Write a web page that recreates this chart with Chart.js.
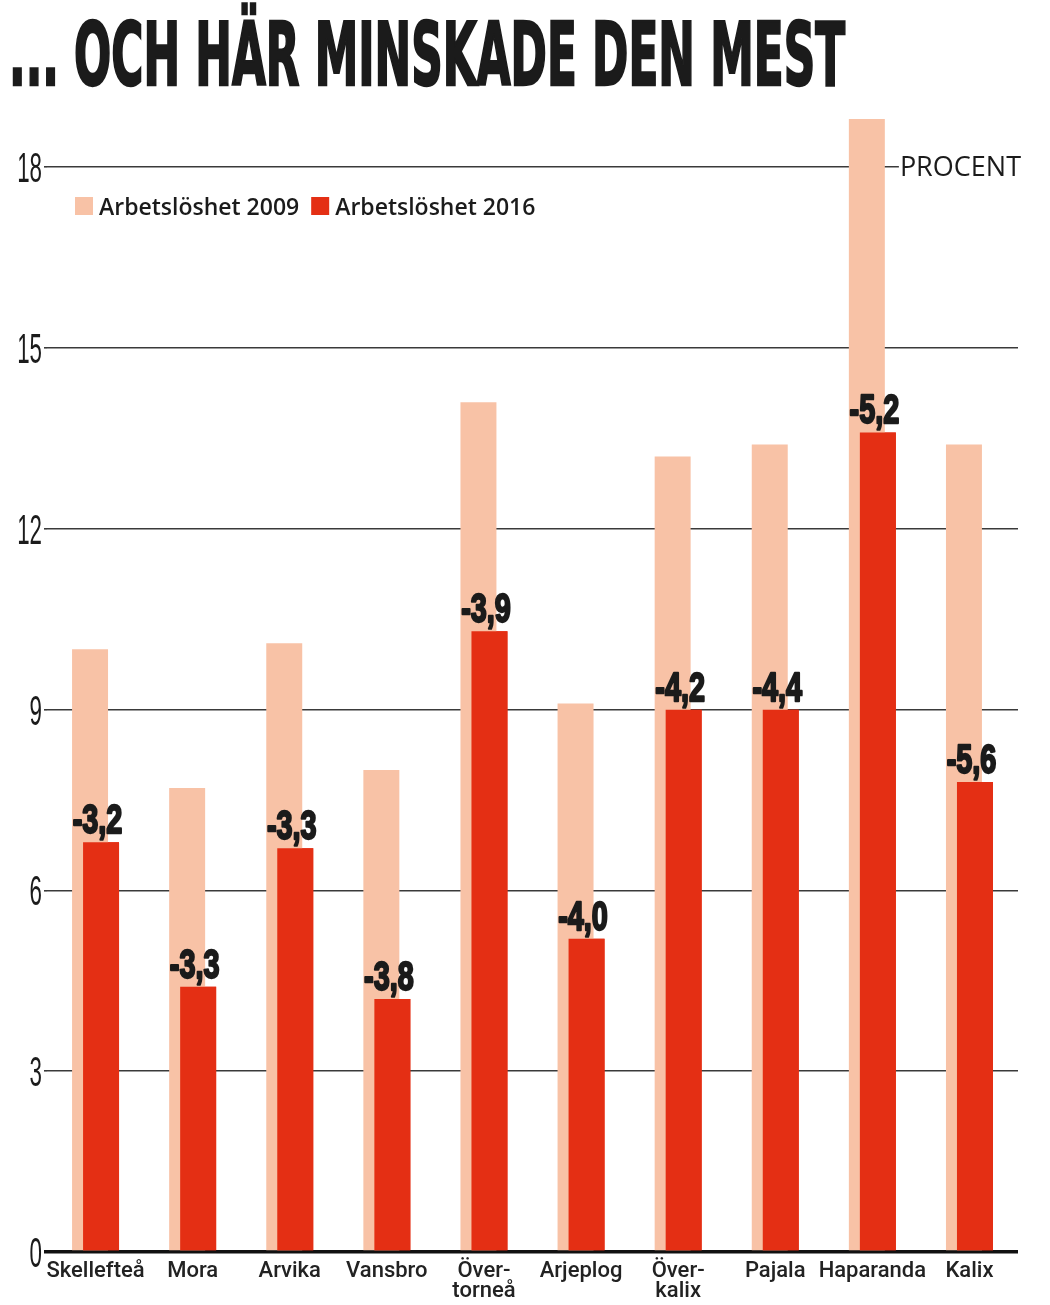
<!DOCTYPE html>
<html lang="sv">
<head>
  <meta charset="UTF-8">
  <script src="https://cdn.jsdelivr.net/npm/chart.js@4.4.1/dist/chart.umd.min.js"></script>
  <style>
    html, body { margin: 0; padding: 0; background: #fff; }
    #wrap { position: relative; width: 1050px; height: 1305px; overflow: hidden; }
    #title {
      position: absolute; left: 9px; top: 11px;
      font-family: "Liberation Sans Narrow", "DejaVu Sans Condensed", "Liberation Sans", sans-serif;
      font-weight: bold; font-size: 88px; line-height: 88px;
      color: #1b1b1b; white-space: nowrap; transform-origin: 0 0;
      -webkit-text-stroke: 2.5px #1b1b1b;
    }
    canvas { position: absolute; left: 0; top: 0; }
  </style>
  <title>... och här minskade den mest</title>
</head>
<body>
  <div id="wrap">
    <canvas id="chart" width="1050" height="1305"></canvas>
    <div id="title">... OCH HÄR MINSKADE DEN MEST</div>
  </div>

  <script>
    // kommuner och arbetslöshet (procent)
    const municipalities = ['Skellefteå', 'Mora', 'Arvika', 'Vansbro', ['Över-', 'torneå'],
      'Arjeplog', ['Över-', 'kalix'], 'Pajala', 'Haparanda', 'Kalix'];
    const unemployment2009 = [10.0, 7.7, 10.1, 8.0, 14.1, 9.1, 13.2, 13.4, 18.8, 13.4];
    const unemployment2016 = [6.8, 4.4, 6.7, 4.2, 10.3, 5.2, 9.0, 9.0, 13.6, 7.8];
    const changeLabels = ['-3,2', '-3,3', '-3,3', '-3,8', '-3,9', '-4,0', '-4,2', '-4,4', '-5,2', '-5,6'];
    const yTicks = [0, 3, 6, 9, 12, 15, 18];
    const seriesNames = ['Arbetslöshet 2009', 'Arbetslöshet 2016'];

    const LIGHT = '#f8c2a6';
    const DARK = '#e42f14';
    const INK = '#1b1b1b';

    // fit the title to its width in the picture
    const title = document.getElementById('title');
    title.style.transform = 'scaleX(' + (836 / title.scrollWidth) + ')';

    function condensedText(ctx, text, x, y, font, sx, align, heavy) {
      ctx.save();
      ctx.translate(x, y);
      ctx.scale(sx, 1);
      ctx.font = font;
      ctx.textAlign = align;
      ctx.textBaseline = 'alphabetic';
      ctx.fillStyle = INK;
      ctx.fillText(text, 0, 0);
      if (heavy) {
        ctx.strokeStyle = INK;
        ctx.lineWidth = heavy;
        ctx.lineJoin = 'round';
        ctx.strokeText(text, 0, 0);
      }
      ctx.restore();
    }

    const overlayPlugin = {
      id: 'overlay',
      afterDatasetsDraw(chart) {
        const ctx = chart.ctx;
        const area = chart.chartArea;
        const y = chart.scales.y;

        // 2016 bars are drawn on top of the 2009 bars
        chart.getDatasetMeta(1).controller.draw();

        // y tick labels, narrow
        yTicks.forEach(function (v) {
          condensedText(ctx, String(v), area.left - 5, y.getPixelForValue(v) + 15,
            '43px "Liberation Sans"', 0.52, 'right', 0);
        });

        // change labels above the 2016 bars
        const light = chart.getDatasetMeta(0).data;
        const dark = chart.getDatasetMeta(1).data;
        dark.forEach(function (bar, i) {
          const cx = (light[i].x + bar.x) / 2 + 2;
          condensedText(ctx, changeLabels[i], cx, bar.y - 9,
            'bold 40px "Liberation Sans"', 0.72, 'center', 2.4);
        });

        // legend inside the plot
        ctx.save();
        ctx.font = '600 23px "Open Sans"';
        ctx.textBaseline = 'alphabetic';
        let lx = 75;
        [LIGHT, DARK].forEach(function (c, i) {
          ctx.fillStyle = c;
          ctx.fillRect(lx, 197, 18, 18);
          ctx.fillStyle = INK;
          ctx.textAlign = 'left';
          ctx.fillText(seriesNames[i], lx + 24, 215);
          lx += 24 + ctx.measureText(seriesNames[i]).width + 12;
        });
        ctx.restore();

        // unit label on the top grid line
        ctx.save();
        ctx.font = '400 27px "Open Sans"';
        const unit = 'PROCENT';
        const w = ctx.measureText(unit).width;
        const uy = y.getPixelForValue(18);
        const ux = area.right + 3 - w;
        ctx.fillStyle = '#fff';
        ctx.fillRect(ux - 1, uy - 16, w + 4, 32);
        ctx.fillStyle = INK;
        ctx.textBaseline = 'middle';
        ctx.fillText(unit, ux, uy + 1);
        ctx.restore();
      }
    };

    new Chart(document.getElementById('chart'), {
      type: 'bar',
      data: {
        labels: municipalities,
        datasets: [{
          label: seriesNames[0],
          data: unemployment2009,
          backgroundColor: LIGHT
        }, {
          label: seriesNames[1],
          data: unemployment2016,
          backgroundColor: DARK
        }]
      },
      options: {
        responsive: false,
        devicePixelRatio: 1,
        animation: false,
        categoryPercentage: 0.2266,
        barPercentage: 3.27,
        layout: { padding: { top: 107, right: 32, bottom: 0, left: 0 } },
        plugins: {
          legend: { display: false },
          tooltip: { enabled: false }
        },
        scales: {
          x: {
            grid: { display: false, drawTicks: false },
            border: { display: false },
            ticks: {
              color: '#222',
              padding: 9,
              maxRotation: 0,
              autoSkip: false,
              font: { family: 'Roboto', weight: '500', size: 22, lineHeight: 0.92 }
            },
            afterFit(scale) { scale.height = 53; }
          },
          y: {
            min: 0,
            max: 19,
            border: { display: false },
            grid: {
              color: function (c) { return c.tick && c.tick.value === 0 ? '#111' : '#3a3a3a'; },
              lineWidth: function (c) { return c.tick && c.tick.value === 0 ? 3.5 : 1.6; },
              tickLength: 3
            },
            ticks: { display: false },
            afterBuildTicks(scale) {
              scale.ticks = yTicks.map(function (v) { return { value: v }; });
            },
            afterFit(scale) { scale.width = 47; }
          }
        }
      },
      plugins: [overlayPlugin]
    });
  </script>
</body>
</html>
